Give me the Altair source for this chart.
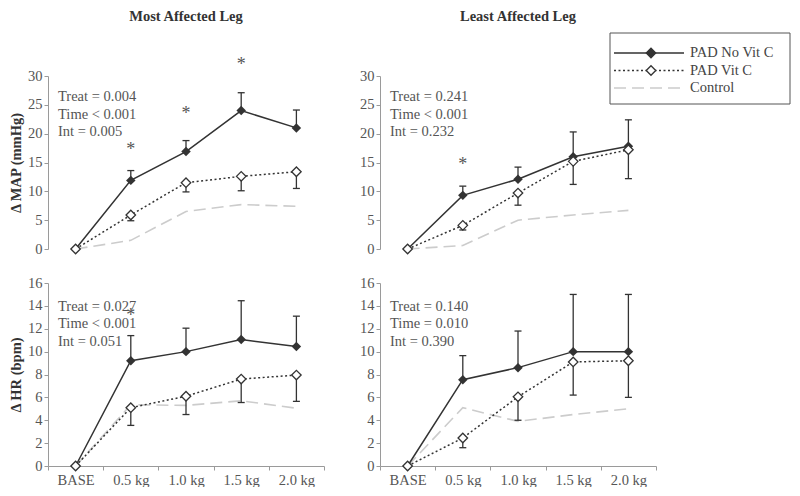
import altair as alt
import pandas as pd

categories = ["BASE", "0.5 kg", "1.0 kg", "1.5 kg", "2.0 kg"]
series_names = ["PAD No Vit C", "PAD Vit C", "Control"]

# Delta MAP (mmHg), most affected leg
map_most_novitc = [0, 11.9, 16.9, 24.0, 21.0]
map_most_novitc_err = [0, 1.7, 1.9, 3.1, 3.1]
map_most_vitc = [0, 5.9, 11.5, 12.6, 13.4]
map_most_vitc_err = [0, 1.0, 1.6, 2.5, 2.9]
map_most_control = [0, 1.5, 6.5, 7.7, 7.4]
map_most_star_cats = ["0.5 kg", "1.0 kg", "1.5 kg"]
map_most_star_y = [17.9, 24.1, 32.6]
map_most_stats = ["Treat = 0.004", "Time < 0.001", "Int = 0.005"]

# Delta MAP (mmHg), least affected leg
map_least_novitc = [0, 9.3, 12.1, 16.0, 17.8]
map_least_novitc_err = [0, 1.6, 2.1, 4.3, 4.6]
map_least_vitc = [0, 4.1, 9.7, 15.2, 17.2]
map_least_vitc_err = [0, 0.8, 2.1, 4.0, 5.0]
map_least_control = [0, 0.6, 5.0, 5.9, 6.7]
map_least_star_cats = ["0.5 kg"]
map_least_star_y = [15.3]
map_least_stats = ["Treat = 0.241", "Time < 0.001", "Int = 0.232"]

# Delta HR (bpm), most affected leg
hr_most_novitc = [0, 9.2, 10.0, 11.05, 10.45]
hr_most_novitc_err = [0, 2.2, 2.05, 3.4, 2.65]
hr_most_vitc = [0, 5.1, 6.1, 7.6, 7.95]
hr_most_vitc_err = [0, 1.55, 1.6, 2.05, 2.3]
hr_most_control = [0, 5.35, 5.3, 5.7, 5.05]
hr_most_star_cats = ["0.5 kg"]
hr_most_star_y = [13.5]
hr_most_stats = ["Treat = 0.027", "Time < 0.001", "Int = 0.051"]

# Delta HR (bpm), least affected leg
hr_least_novitc = [0, 7.55, 8.6, 10.0, 10.0]
hr_least_novitc_err = [0, 2.1, 3.2, 5.0, 5.0]
hr_least_vitc = [0, 2.45, 6.05, 9.1, 9.2]
hr_least_vitc_err = [0, 0.85, 2.05, 2.9, 3.2]
hr_least_control = [0, 5.1, 3.9, 4.5, 5.0]
hr_least_star_cats = []
hr_least_star_y = []
hr_least_stats = ["Treat = 0.140", "Time = 0.010", "Int = 0.390"]

FONT = "Liberation Serif"
FS = 14.5
DARK = "#333333"
TEXT = "#555555"
AXIS = "#9a9a9a"
CTRL = "#cccccc"
PANEL_W = 276


def make_legend():
    legend_df = pd.DataFrame({"label": series_names, "row": list(range(len(series_names)))})
    lx = alt.Scale(domain=[0, 180], range=[230, 410])
    ly = alt.Scale(domain=[0, 71], range=[-43, 28])
    base = alt.Chart(legend_df).transform_calculate(
        ly="20 + 17.5 * datum.row", x0="4", x1="74", xm="41", xt="80"
    )
    box = alt.Chart(pd.DataFrame({"b": [0]})).transform_calculate(
        bx0="0", bx1="180", by0="0", by1="71"
    ).mark_rect(fill="white", stroke="#555555", strokeWidth=1).encode(
        x=alt.X("bx0:Q", scale=lx, axis=None), x2="bx1:Q",
        y=alt.Y("by0:Q", scale=ly, axis=None), y2="by1:Q",
    )
    lines = base.mark_rule(strokeWidth=1.5).encode(
        x=alt.X("x0:Q", scale=lx, axis=None), x2="x1:Q",
        y=alt.Y("ly:Q", scale=ly, axis=None),
        color=alt.Color("label:N", scale=alt.Scale(domain=series_names, range=[DARK, DARK, CTRL]), legend=None),
        strokeDash=alt.StrokeDash("label:N", scale=alt.Scale(domain=series_names, range=[[1, 0], [2, 2.5], [12, 6]]), legend=None),
    )
    marks = base.transform_filter("datum.row < 2").mark_point(
        shape="diamond", size=90, filled=True, stroke=DARK, strokeWidth=1.3, opacity=1
    ).encode(
        x=alt.X("xm:Q", scale=lx, axis=None),
        y=alt.Y("ly:Q", scale=ly, axis=None),
        fill=alt.Fill("label:N", scale=alt.Scale(domain=series_names[:2], range=[DARK, "white"]), legend=None),
    )
    labels = base.mark_text(align="left", baseline="middle", font=FONT, fontSize=FS, color="#444444").encode(
        x=alt.X("xt:Q", scale=lx, axis=None),
        y=alt.Y("ly:Q", scale=ly, axis=None),
        text="label:N",
    )
    return alt.layer(box, lines, marks, labels)


def make_panel(novitc, novitc_err, vitc, vitc_err, control, star_cats, star_y, stats,
               ymax, ystep, height, stats_dy, title=None, title_offset=0, ytitle=None,
               show_x=False, legend=False):
    idx = list(range(len(categories)))
    nov = pd.DataFrame({"cat": categories, "idx": idx, "v": novitc, "err": novitc_err})
    nov["lo"] = nov["v"]
    nov["hi"] = nov["v"] + nov["err"]
    vit = pd.DataFrame({"cat": categories, "idx": idx, "v": vitc, "err": vitc_err})
    vit["lo"] = vit["v"] - vit["err"]
    vit["hi"] = vit["v"]
    ctl = pd.DataFrame({"cat": categories, "idx": idx, "v": control})
    nov_e = nov[nov["err"] > 0]
    vit_e = vit[vit["err"] > 0]

    xscale = alt.Scale(type="band", domain=categories, paddingInner=0, paddingOuter=0)
    if show_x:
        xaxis = alt.Axis(title=None, tickBand="extent", labelAngle=0, labelPadding=3)
    else:
        xaxis = None
    X = alt.X("cat:N", scale=xscale, bandPosition=0.5, axis=xaxis)
    yscale = alt.Scale(domain=[0, ymax], nice=False, zero=True)
    yaxis = alt.Axis(values=list(range(0, ymax + 1, ystep)), title=ytitle, titlePadding=4)

    def Yf(field):
        return alt.Y(field + ":Q", scale=yscale, axis=yaxis)

    layers = []
    layers.append(alt.Chart(ctl).mark_line(color=CTRL, strokeDash=[12, 6], strokeWidth=1.6).encode(
        x=X, y=Yf("v"), order="idx:Q"))
    layers.append(alt.Chart(nov_e).mark_rule(color=DARK, strokeWidth=1.3).encode(x=X, y=Yf("lo"), y2="hi:Q"))
    layers.append(alt.Chart(nov_e).mark_tick(color=DARK, size=7, thickness=1.3, orient="horizontal", opacity=1).encode(
        x=X, y=Yf("hi")))
    layers.append(alt.Chart(vit_e).mark_rule(color=DARK, strokeWidth=1.3).encode(x=X, y=Yf("lo"), y2="hi:Q"))
    layers.append(alt.Chart(vit_e).mark_tick(color=DARK, size=7, thickness=1.3, orient="horizontal", opacity=1).encode(
        x=X, y=Yf("lo")))
    layers.append(alt.Chart(nov).mark_line(color=DARK, strokeWidth=1.5).encode(x=X, y=Yf("v"), order="idx:Q"))
    layers.append(alt.Chart(vit).mark_line(color=DARK, strokeWidth=1.5, strokeDash=[2, 2.5]).encode(
        x=X, y=Yf("v"), order="idx:Q"))
    layers.append(alt.Chart(nov).mark_point(shape="diamond", size=90, filled=True, color=DARK, opacity=1).encode(
        x=X, y=Yf("v")))
    layers.append(alt.Chart(vit).mark_point(shape="diamond", size=90, filled=True, fill="white", stroke=DARK,
                                             strokeWidth=1.3, opacity=1).encode(x=X, y=Yf("v")))
    if star_cats:
        stars = pd.DataFrame({"cat": star_cats, "sy": star_y})
        layers.append(alt.Chart(stars).mark_text(text="*", font=FONT, fontSize=18, color=TEXT,
                                                 baseline="alphabetic", dy=9).encode(x=X, y=Yf("sy")))
    st = pd.DataFrame({"cat": [categories[0]], "top": [ymax]})
    layers.append(alt.Chart(st).mark_text(text=stats, align="left", baseline="top", dx=10, dy=stats_dy,
                                          lineHeight=17.5, font=FONT, fontSize=FS, color=TEXT).encode(
        x=alt.X("cat:N", scale=xscale, bandPosition=0, axis=xaxis), y=Yf("top")))

    chart = alt.layer(*layers)
    if legend:
        chart = alt.layer(chart, make_legend()).resolve_scale(x="independent", y="independent")
    props = dict(width=PANEL_W, height=height)
    if title:
        props["title"] = alt.Title(title, offset=title_offset)
    return chart.properties(**props)


tl = make_panel(map_most_novitc, map_most_novitc_err, map_most_vitc, map_most_vitc_err, map_most_control,
                map_most_star_cats, map_most_star_y, map_most_stats, 30, 5, 173, 14,
                title="Most Affected Leg", title_offset=32, ytitle="\u0394 MAP (mmHg)")
tr = make_panel(map_least_novitc, map_least_novitc_err, map_least_vitc, map_least_vitc_err, map_least_control,
                map_least_star_cats, map_least_star_y, map_least_stats, 30, 5, 173, 14,
                title="Least Affected Leg", title_offset=8.5, legend=True)
bl = make_panel(hr_most_novitc, hr_most_novitc_err, hr_most_vitc, hr_most_vitc_err, hr_most_control,
                hr_most_star_cats, hr_most_star_y, hr_most_stats, 16, 2, 183, 16.5,
                ytitle="\u0394 HR (bpm)", show_x=True)
br = make_panel(hr_least_novitc, hr_least_novitc_err, hr_least_vitc, hr_least_vitc_err, hr_least_control,
                hr_least_star_cats, hr_least_star_y, hr_least_stats, 16, 2, 183, 16.5, show_x=True)

chart = alt.concat(
    tl, tr, bl, br, columns=2, spacing={"row": 34, "column": 56}, bounds="flush", align="each", padding=0
).configure_view(stroke=None).configure_axis(
    labelFont=FONT, labelFontSize=FS, labelColor=TEXT, titleFont=FONT, titleFontSize=FS,
    titleFontWeight="bold", titleColor=DARK, domainColor=AXIS, tickColor=AXIS, tickSize=4,
    labelPadding=2, grid=False, domainWidth=1, tickWidth=1
).configure_title(font=FONT, fontSize=FS, fontWeight="bold", color=DARK, anchor="middle")

chart.save("out.html", embed_options={"renderer": "svg", "actions": False})
